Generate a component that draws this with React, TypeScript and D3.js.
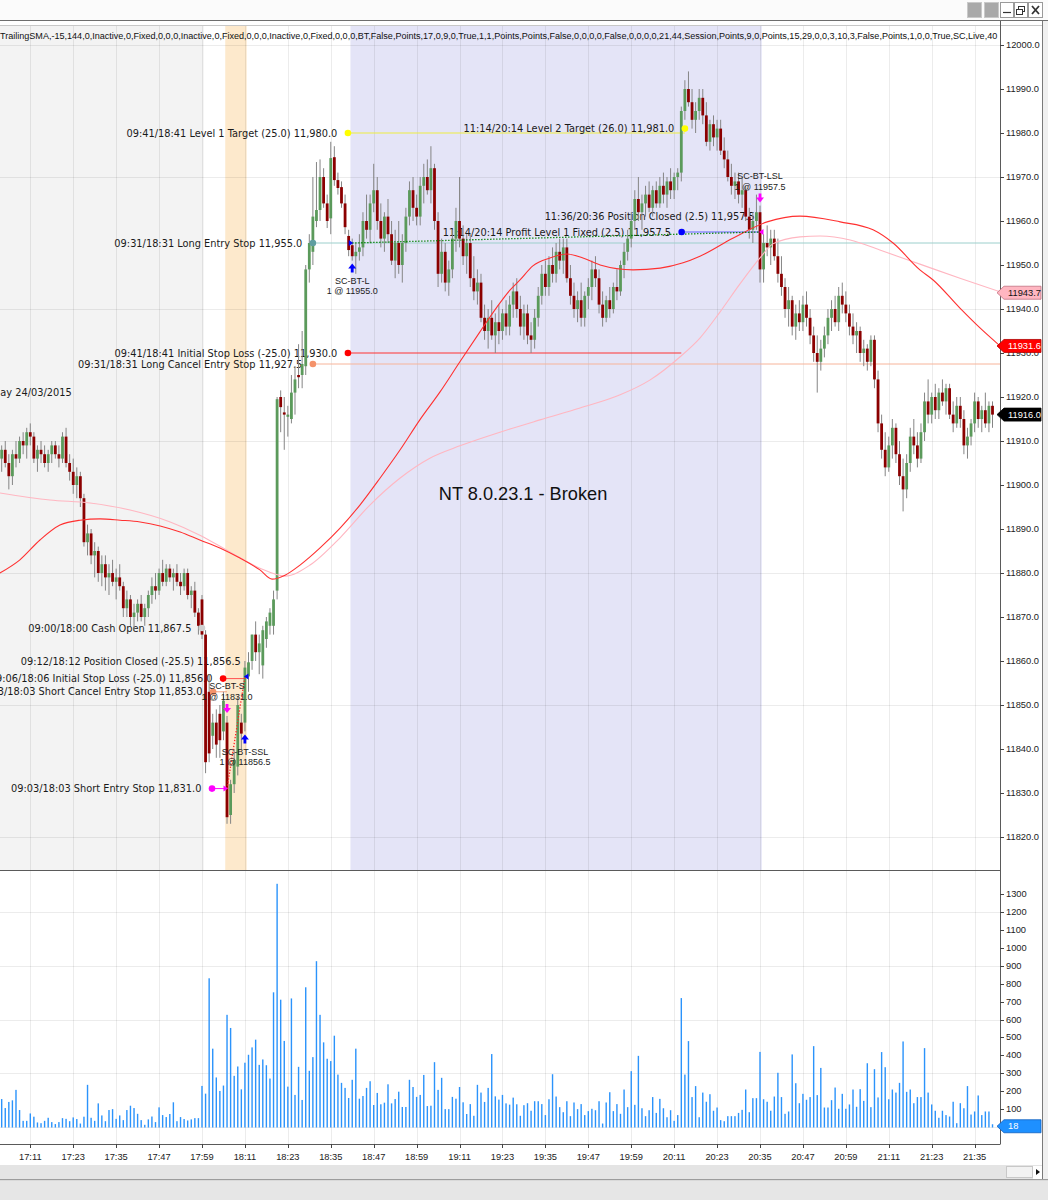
import React from "react";
import * as d3 from "d3";

// ---------------- DATA ----------------
const firstBarTime = "17:03"; // one-minute bars, 17:03 .. 21:40

// [open, high, low, close]
const bars: number[][] = [
  [11906,11909,11903,11908],[11908,11910,11904,11905],[11905,11907,11899,11902],[11902,11908,11900,11907],[11907,11910,11904,11906],
  [11906,11911,11905,11910],[11910,11912,11907,11909],[11909,11913,11906,11912],[11912,11914,11909,11911],[11911,11912,11905,11906],
  [11906,11909,11903,11908],[11908,11910,11905,11907],[11907,11909,11904,11905],[11905,11908,11903,11907],[11907,11910,11905,11909],
  [11909,11910,11906,11907],[11907,11909,11904,11906],[11906,11912,11905,11911],[11911,11913,11904,11905],[11905,11907,11901,11903],
  [11903,11906,11898,11900],[11900,11904,11897,11902],[11902,11903,11895,11897],[11897,11898,11886,11887],[11887,11891,11884,11889],
  [11889,11890,11882,11884],[11884,11887,11879,11885],[11885,11886,11878,11880],[11880,11884,11877,11882],[11882,11884,11876,11879],
  [11879,11882,11875,11880],[11880,11883,11877,11878],[11878,11881,11874,11879],[11879,11882,11876,11877],[11877,11878,11870,11872],
  [11872,11876,11870,11874],[11874,11875,11868,11870],[11870,11873,11867,11871],[11871,11874,11869,11873],[11873,11875,11869,11870],
  [11870,11873,11868,11872],[11872,11876,11870,11875],[11875,11879,11873,11877],[11877,11880,11874,11876],[11876,11881,11875,11880],
  [11880,11883,11877,11878],[11878,11882,11877,11881],[11881,11882,11878,11879],[11879,11881,11876,11880],[11880,11882,11877,11878],
  [11878,11880,11875,11877],[11877,11881,11876,11880],[11880,11881,11874,11875],[11875,11877,11872,11876],[11876,11878,11870,11871],
  [11871,11872,11866,11868],[11874,11875,11865,11866],[11866,11867,11834.5,11837],[11853,11857,11837,11839],[11843,11848,11840,11846],
  [11846,11849,11838,11841],[11848,11850,11838,11842],[11844,11853,11842,11851],[11846,11847.5,11823,11824.5],[11825,11833,11823,11832],
  [11832,11840,11830,11837.5],[11836,11852,11834,11850],[11846,11848,11840,11843.5],[11846,11860,11844,11858.5],[11856.5,11862,11853,11859.7],
  [11860,11866,11858,11866],[11866,11869,11860,11862],[11862,11866,11857,11864],[11859,11868,11856,11867],[11865,11870,11863,11869],
  [11868,11872,11866,11871],[11868,11876,11866,11874],[11876,11920,11874,11919.5],[11920,11921.5,11912,11917.7],[11916.5,11920,11908,11916],
  [11915.5,11918,11911,11916],[11915,11925,11914,11921],[11921,11927,11916,11924],[11925,11932,11922,11924.5],[11925,11935,11922,11927.5],
  [11927,11950,11925,11949],[11949,11957,11946,11955],[11953,11970,11950,11961],[11960,11973.4,11958.6,11962.5],[11962.5,11974,11960,11970],
  [11970,11972,11963,11964],[11964,11966,11958.4,11960],[11960.6,11978,11957,11974.3],[11974.5,11977,11968,11969.3],[11969.3,11971,11966,11967.5],
  [11967.7,11969,11963,11964],[11964,11966,11957,11958.6],[11956.6,11958,11952,11953.4],[11954.5,11956,11951,11952],[11952,11955,11948,11953],
  [11953,11957,11951,11954],[11954,11962,11952,11960],[11960,11966,11956,11958],[11958,11966,11955,11964],[11964,11973,11962,11967],
  [11967,11970,11958,11960],[11960,11964,11954,11956],[11956,11962,11953,11961],[11961,11965,11955,11957],[11957,11960,11950,11951],
  [11951,11958,11947,11955],[11955,11960,11948,11950],[11950,11957,11946,11955],[11955,11963,11953,11961],[11961,11969,11959,11967],
  [11967,11970,11960,11963],[11963,11966,11959,11961],[11961,11970,11959,11968],[11968,11973,11964,11970],[11970,11974,11966,11967],
  [11967,11977,11964,11972],[11972,11973,11958,11960],[11960,11962,11945,11948],[11948,11956,11946,11953],[11953,11955,11944,11946],
  [11946,11951,11943,11949],[11949,11958,11947,11956],[11956,11963,11953,11960],[11960,11970,11954,11956],[11956,11959,11950,11952],
  [11952,11957,11948,11955],[11955,11957,11945,11947],[11947,11952,11942,11944],[11944,11949,11941,11946],[11946,11948,11937,11938],
  [11938,11941,11933,11935],[11935,11940,11931,11938],[11938,11942,11933,11934],[11934,11939,11930,11937],[11937,11941,11932,11935],
  [11935,11940,11933,11939],[11939,11942,11934,11936],[11936,11943,11934,11941],[11941,11946,11938,11944],[11944,11947,11938,11940],
  [11940,11943,11934,11936],[11936,11941,11933,11939],[11939,11941,11932,11934],[11934,11937,11930,11933],[11933,11940,11931,11938],
  [11938,11945,11936,11943],[11943,11950,11941,11948],[11948,11951,11943,11945],[11945,11952,11943,11950],[11950,11954,11946,11948],
  [11948,11955,11946,11953],[11953,11956,11949,11951],[11951,11956,11948,11954],[11954,11956,11946,11947],[11947,11950,11941,11943],
  [11943,11946,11938,11940],[11940,11944,11937,11942],[11942,11946,11936,11938],[11938,11944,11936,11943],[11943,11947,11940,11945],
  [11945,11951,11942,11949],[11949,11952,11945,11947],[11947,11949,11939,11941],[11941,11944,11936,11938],[11938,11943,11937,11942],
  [11942,11945,11938,11940],[11940,11946,11939,11945],[11945,11949,11942,11944],[11944,11951,11943,11950],[11950,11955,11947,11953],
  [11953,11958,11951,11956],[11956,11962,11954,11960],[11960,11967,11958,11965],[11965,11970,11960,11962],[11962,11966,11958,11964],
  [11964,11968,11961,11966],[11966,11969,11962,11963],[11963,11968,11961,11967],[11967,11969,11963,11964],[11964,11970,11963,11968],
  [11968,11971,11964,11966],[11966,11970,11963,11969],[11969,11972,11965,11967],[11967,11971,11965,11970],[11970,11972,11967,11971],
  [11971,11986,11969,11985],[11985,11992,11983,11990],[11990,11994,11986,11987],[11987,11990,11981,11983],[11983,11987,11980,11985],
  [11985,11990,11983,11988],[11988,11990,11982,11984],[11984,11987,11977,11978],[11978,11983,11976,11982],[11982,11984,11977,11979],
  [11979,11983,11976,11981],[11981,11983,11975,11976],[11976,11979,11972,11974],[11974,11976,11969,11970],[11970,11973,11966,11968],
  [11968,11971,11965,11969],[11969,11971,11964,11966],[11966,11970,11963,11967],[11967,11968,11960,11961],[11961,11963,11956,11958],
  [11958,11962,11955,11960],[11960,11966,11958,11962],[11962,11963.5,11946,11949],[11949,11957,11946,11955],[11955,11959,11952,11954],
  [11954,11958,11950,11956],[11956,11958,11951,11952],[11952,11956,11946,11948],[11948,11952,11943,11945],[11945,11947,11938,11940],
  [11940,11945,11936,11942],[11942,11943,11934,11936],[11936,11941,11933,11939],[11939,11942,11935,11937],[11937,11943,11935,11941],
  [11941,11944,11936,11938],[11938,11940,11932,11934],[11934,11936,11928,11930],[11930,11934,11921,11928],[11928,11933,11926,11931],
  [11931,11936,11929,11934],[11934,11940,11932,11938],[11938,11942,11935,11940],[11940,11943,11936,11937],[11937,11945,11935,11943],
  [11943,11946,11939,11941],[11941,11944,11937,11939],[11939,11941,11934,11936],[11936,11939,11932,11934],[11934,11937,11930,11935],
  [11935,11936,11928,11930],[11930,11933,11927,11931],[11931,11932,11926,11928],[11928,11934,11927,11933],[11933,11934,11922,11924],
  [11924,11926,11912,11914],[11914,11916,11906,11908],[11908,11912,11902,11904],[11904,11911,11903,11909],[11909,11915,11906,11913],
  [11913,11914,11905,11907],[11907,11910,11900,11902],[11902,11906,11894,11899],[11899,11907,11897,11905],[11905,11913,11903,11911],
  [11911,11915,11907,11909],[11909,11912,11904,11906],[11906,11914,11905,11912],[11912,11921,11910,11919],[11919,11924,11914,11916],
  [11916,11921,11914,11920],[11920,11923,11915,11917],[11917,11922,11915,11921],[11921,11924,11918,11919],[11919,11923,11916,11922],
  [11922,11923,11915,11916],[11916,11919,11912,11914],[11914,11920,11913,11918],[11918,11920,11913,11915],[11915,11917,11907,11909],
  [11909,11913,11906,11911],[11911,11915,11909,11914],[11914,11921,11912,11919],[11919,11920,11913,11915],[11915,11918,11912,11917],
  [11917,11921,11913,11914],[11914,11919,11912,11918],[11918,11919,11913,11916],
];

const volumes: number[] = [
  158,108,142,151,209,97,37,37,78,60, 28,24,37,54,30,19,30,52,48,35,
  56,47,22,60,237,54,37,134,67,35, 97,102,48,67,41,97,121,108,76,41,
  15,45,61,30,112,69,58,75,140,35, 58,47,39,45,52,52,231,188,829,438,
  278,203,233,626,553,287,339,212,360,404, 445,488,348,378,346,272,751,1354,710,481,
  227,717,181,337,153,779,315,391,924,626, 473,382,369,510,294,248,220,164,265,438,
  160,175,220,257,125,192,129,138,240,134, 158,199,114,114,265,225,170,181,292,119,
  121,363,209,276,102,102,170,160,225,140, 75,130,65,237,194,142,220,408,173,155,
  181,134,127,166,129,65,124,135,93,146, 146,130,69,157,296,172,113,85,146,63,
  139,102,130,69,91,104,96,146,22,139, 196,91,130,76,211,113,313,126,398,107,
  63,96,169,81,159,107,57,96,37,69, 719,294,480,169,230,57,194,143,185,93,
  111,41,35,63,63,63,81,98,211,85, 163,163,420,157,143,93,172,304,169,76,
  89,406,246,135,187,154,169,452,180,331, 111,111,152,222,104,187,104,128,211,115,
  213,148,357,113,324,167,419,335,157,211, 194,248,478,198,211,135,169,169,441,194,
  128,93,54,93,69,61,143,24,135,107, 230,72,89,178,69,89,89,18,
];

// moving averages: [bar index, value]
const fastSMA: number[][] = [
  [-0.5,11880.0],[5.1,11883.0],[10.7,11887.5],[16.3,11890.9],[21.9,11892.0],[27.5,11892.3],[33.1,11892.0],[38.7,11891.6],
  [44.3,11890.7],[49.9,11889.3],[55.4,11887.5],[61.0,11885.7],[66.6,11883.4],[72.2,11880.7],[75.6,11878.6],[79.2,11879.5],
  [83.4,11881.8],[89.0,11885.7],[94.6,11890.2],[100.2,11895.5],[105.8,11901.6],[111.4,11908.0],[116.9,11914.8],[122.5,11921.1],
  [128.1,11928.0],[133.7,11934.8],[138.5,11940.5],[142.1,11944.3],[144.9,11946.6],[148.5,11949.8],[153.3,11951.6],[158.0,11952.5],
  [162.5,11951.6],[167.3,11950.0],[176.5,11948.9],[184.1,11949.3],[190.5,11950.5],[195.2,11952.0],[204.4,11956.1],[214.0,11959.8],
  [223.2,11961.1],[234.4,11959.8],[243.6,11958.0],[249.2,11955.0],[256.7,11948.9],[260.4,11946.6],[267.9,11940.2],[273.5,11935.7],
  [279.1,11931.6],
];
const slowSMA: number[][] = [
  [-0.5,11898.2],[13.5,11896.6],[24.7,11895.9],[35.9,11894.3],[47.1,11891.6],[55.4,11888.6],[63.8,11884.8],[72.2,11881.1],
  [79.2,11879.3],[86.2,11881.8],[94.6,11888.0],[103.0,11895.5],[111.4,11901.6],[119.7,11906.1],[128.1,11908.9],[139.3,11912.0],
  [150.5,11914.8],[161.7,11917.5],[172.9,11920.5],[181.3,11923.9],[189.6,11929.1],[195.2,11933.4],[200.8,11939.3],[206.4,11945.7],
  [212.0,11951.6],[215.6,11954.8],[223.2,11956.4],[228.8,11956.6],[237.2,11955.7],[245.5,11953.4],[256.7,11950.2],[267.9,11947.0],
  [279.1,11943.9],
];

const priceTicks = [11820,11830,11840,11850,11860,11870,11880,11890,11900,11910,11920,11930,11940,11950,11960,11970,11980,11990,12000];
const priceGrid = [11820,11850,11880,11910,11940,11970,12000];
const volumeTicks = [100,200,300,400,500,600,700,800,900,1000,1100,1200,1300];
const volumeGrid = [0,300,600,900,1200];
const timeTicks = ["17:11","17:23","17:35","17:47","17:59","18:11","18:23","18:35","18:47","18:59","19:11","19:23","19:35","19:47","19:59","20:11","20:23","20:35","20:47","20:59","21:11","21:23","21:35"];

const lastValues = { slow: 11943.7, fast: 11931.6, price: 11916.0, volume: 18 };

const headerText = "TrailingSMA,-15,144,0,Inactive,0,Fixed,0,0,0,Inactive,0,Fixed,0,0,0,Inactive,0,Fixed,0,0,0,BT,False,Points,17,0,9,0,True,1,1,Points,Points,False,0,0,0,0,False,0,0,0,0,21,44,Session,Points,9,0,Points,15,29,0,0,3,10,3,False,Points,1,0,0,True,SC,Live,40";

// shaded time spans (bar index)
const regions = [
  { from: -1, to: 56.5, fill: "#f3f3f3" },
  { from: 62.5, to: 68.5, fill: "#fde9cc" },
  { from: 97.5, to: 212.5, fill: "#e4e4f7" },
];

// order / strategy annotations: anchor bar, price, optional line end
const orders = [
  { label: "09:41/18:41 Level 1 Target (25.0) 11,980.0", bar: 96.8, price: 11980, end: 191, line: "#eded40", dot: "#ffff00", dy: 0 },
  { label: "11:14/20:14 Level 2 Target (26.0) 11,981.0", bar: 191, price: 11981, end: null, line: "", dot: "#ffff00", dy: 0 },
  { label: "09:31/18:31 Long Entry Stop 11,955.0", bar: 87, price: 11955, end: "edge", line: "#9ccfcc", dot: "#5f9ea0", dy: 0 },
  { label: "09:41/18:41 Initial Stop Loss (-25.0) 11,930.0", bar: 96.8, price: 11930, end: 190, line: "#ff3333", dot: "#ff0000", dy: 0 },
  { label: "09:31/18:31 Long Cancel Entry Stop 11,927.5", bar: 87, price: 11927.5, end: "edge", line: "#f7b49a", dot: "#f4926a", dy: 0 },
  { label: "09:00/18:00 Cash Open 11,867.5", bar: 56, price: 11867.5, end: null, line: "", dot: "#d0d0d0", dy: 0 },
  { label: "09:12/18:12 Position Closed (-25.5) 11,856.5", bar: 69.8, price: 11856.5, end: null, line: "", dot: "", dy: -15.4 },
  { label: "09:06/18:06 Initial Stop Loss (-25.0) 11,856.0", bar: 61.9, price: 11856, end: 68.3, line: "#ff5050", dot: "#ff0000", dy: 0 },
  { label: "09:03/18:03 Short Cancel Entry Stop 11,853.0", bar: 59.1, price: 11853, end: 63, line: "#f4a080", dot: "#f4926a", dy: 0 },
  { label: "09:03/18:03 Short Entry Stop 11,831.0", bar: 58.8, price: 11831, end: 62.6, line: "#ff00ff", dot: "#ff00ff", dy: 0 },
  { label: "11:36/20:36 Position Closed (2.5) 11,957.5", bar: 213.5, price: 11957.5, end: null, line: "", dot: "", dy: -15.4 },
  { label: "11:14/20:14 Profit Level 1 Fixed (2.5) 11,957.5", bar: 190.1, price: 11957.5, end: 212.6, line: "#6060ff", dot: "#0000ff", dy: 0 },
];

// executions
const executions = [
  { name: "SC-BT-S", qty: 1, price: 11831.0, bar: 63, side: "sell", entry: true },
  { name: "SC-BT-SSL", qty: 1, price: 11856.5, bar: 68, side: "buy", entry: false },
  { name: "SC-BT-L", qty: 1, price: 11955.0, bar: 98, side: "buy", entry: true },
  { name: "SC-BT-LSL", qty: 1, price: 11957.5, bar: 212, side: "sell", entry: false },
];
const tradeLinks = [
  { from: 0, to: 1, color: "#ff2020" },
  { from: 2, to: 3, color: "#008000" },
];

const sessionLabel = "Tuesday 24/03/2015";
const watermark = "NT 8.0.23.1 - Broken";

// ---------------- CHART ----------------
const AX = "'Liberation Sans', Arial, sans-serif";
const DV = "'DejaVu Sans', Verdana, sans-serif";

function toMin(t: string) {
  const [h, m] = t.split(":").map(Number);
  return h * 60 + m;
}

export default function App() {
  const W = 1048, H = 1200;
  const plotR = 1000;
  const pTop = 26, pBot = 870, vTop = 870, vBot = 1144;
  const n = bars.length;
  const x = d3.scaleLinear().domain([0, n - 1]).range([1.68, 1.68 + 3.577 * (n - 1)]);
  const y = d3.scaleLinear().domain([11812.5, 12004.32]).range([pBot, pTop]);
  const yv = d3.scaleLinear().domain([-91.7, 1430.6]).range([vBot, vTop]);
  const t0 = toMin(firstBarTime);

  const lineGen = d3.line<number[]>().x(d => x(d[0])).y(d => y(d[1])).curve(d3.curveMonotoneX);

  const arrow = (cx: number, top: number, up: boolean, color: string) => {
    const h = 9, hw = 4, sw = 1.4, hh = 5;
    const p = up
      ? `M${cx},${top} L${cx + hw},${top + hh} L${cx + sw},${top + hh} L${cx + sw},${top + h} L${cx - sw},${top + h} L${cx - sw},${top + hh} L${cx - hw},${top + hh} Z`
      : `M${cx},${top + h} L${cx + hw},${top + h - hh} L${cx + sw},${top + h - hh} L${cx + sw},${top} L${cx - sw},${top} L${cx - sw},${top + h - hh} L${cx - hw},${top + h - hh} Z`;
    return <path d={p} fill={color} />;
  };

  const tag = (yy: number, fill: string, stroke: string, txtColor: string, label: string, key: string) => (
    <g key={key}>
      <path d={`M997,${yy} L1004,${yy - 6.5} L1041,${yy - 6.5} L1041,${yy + 6.5} L1004,${yy + 6.5} Z`} fill={fill} stroke={stroke} strokeWidth={0.8} />
      <text x={1008} y={yy} dominantBaseline="central" fontFamily={AX} fontSize={9.3} fill={txtColor}>{label}</text>
    </g>
  );

  return (
    <svg width={W} height={H} viewBox={`0 0 ${W} ${H}`} style={{ display: "block", position: "absolute", left: 0, top: 0 }}>
      <defs>
        <clipPath id="pclip"><rect x={0} y={pTop} width={plotR} height={pBot - pTop} /></clipPath>
        <clipPath id="vclip"><rect x={0} y={vTop} width={plotR} height={vBot - vTop} /></clipPath>
        <clipPath id="hclip"><rect x={0} y={20} width={998} height={30} /></clipPath>
      </defs>
      {/* window chrome */}
      <rect x={0} y={0} width={W} height={H} fill="#ffffff" />
      <rect x={0} y={0} width={W} height={20} fill="#fbfbfb" />
      <line x1={0} x2={W} y1={20.5} y2={20.5} stroke="#6e6e6e" />
      <line x1={0} x2={1042} y1={25.5} y2={25.5} stroke="#c8c8c8" />
      <g>
        <rect x={967.5} y={2.5} width={14} height={15} fill="#a9a9a9" stroke="#c9c9c9" />
        <rect x={984.5} y={2.5} width={14} height={15} fill="#a9a9a9" stroke="#c9c9c9" />
        <rect x={1000.5} y={2.5} width={13} height={15} fill="#fff" stroke="#9a9a9a" />
        <line x1={1003} x2={1011} y1={12.5} y2={12.5} stroke="#333" strokeWidth={1.2} />
        <rect x={1014.5} y={2.5} width={13} height={15} fill="#fff" stroke="#9a9a9a" />
        <rect x={1018.5} y={6.5} width={6} height={5} fill="none" stroke="#333" />
        <rect x={1016.5} y={9.5} width={6} height={5} fill="#fff" stroke="#333" />
        <rect x={1028.5} y={2.5} width={14} height={15} fill="#fff" stroke="#9a9a9a" />
        <path d="M1032,6 L1039,14 M1039,6 L1032,14" stroke="#333" strokeWidth={1.8} />
      </g>

      {/* price panel background regions */}
      <g clipPath="url(#pclip)">
        {regions.map((r, i) => (
          <rect key={i} x={x(r.from)} y={pTop} width={x(r.to) - x(r.from)} height={pBot - pTop} fill={r.fill} />
        ))}
      </g>
      {/* grid */}
      <g stroke="#000" strokeOpacity={0.075} strokeWidth={1}>
        {timeTicks.map(t => {
          const xx = Math.round(x(toMin(t) - t0)) + 0.5;
          return <line key={t} x1={xx} x2={xx} y1={pTop} y2={vBot} />;
        })}
        {priceGrid.map(p => <line key={p} x1={0} x2={plotR} y1={Math.round(y(p)) + 0.5} y2={Math.round(y(p)) + 0.5} />)}
        {volumeGrid.map(v => <line key={v} x1={0} x2={plotR} y1={Math.round(yv(v)) + 0.5} y2={Math.round(yv(v)) + 0.5} />)}
      </g>

      {/* header text */}
      <text x={0} y={38.5} fontFamily={AX} fontSize={9.05} fill="#111" clipPath="url(#hclip)">{headerText}</text>

      <g clipPath="url(#pclip)">
        {/* order lines */}
        {orders.map((o, i) => {
          if (o.end == null) return null;
          const x2 = o.end === "edge" ? plotR : x(o.end as number);
          const yy = y(o.price);
          return <line key={i} x1={x(o.bar)} x2={x2} y1={yy} y2={yy} stroke={o.line} strokeWidth={1} />;
        })}
        {/* labels */}
        {orders.map((o, i) => (
          <text key={i} x={x(o.bar) - 10.6} y={y(o.price) + o.dy} textAnchor="end" dominantBaseline="central"
            fontFamily={DV} fontSize={9.8} fill="#1a1a1a">{o.label}</text>
        ))}
        <text x={71.7} y={392.5} textAnchor="end" dominantBaseline="central" fontFamily={DV} fontSize={9.8} fill="#1a1a1a">{sessionLabel}</text>
        <text x={523} y={494} textAnchor="middle" dominantBaseline="central" fontFamily={AX} fontSize={18.2} fill="#111">{watermark}</text>

        {/* candles */}
        {bars.map((b, i) => {
          const [o, h, l, c] = b;
          const xx = x(i);
          const up = c >= o;
          const top = y(Math.max(o, c)), bot = y(Math.min(o, c));
          return (
            <g key={i}>
              <line x1={xx} x2={xx} y1={y(h)} y2={y(l)} stroke="#858585" strokeWidth={1} />
              <rect x={xx - 1.4} y={top} width={2.8} height={Math.max(bot - top, 1)} fill={up ? "#5b9a5b" : "#8b0000"} />
            </g>
          );
        })}

        {/* moving averages */}
        <path d={lineGen(slowSMA) || ""} fill="none" stroke="#ffb6c1" strokeWidth={1.1} />
        <path d={lineGen(fastSMA) || ""} fill="none" stroke="#ff3030" strokeWidth={1.1} />

        {/* trade links */}
        {tradeLinks.map((t, i) => {
          const a = executions[t.from], b = executions[t.to];
          return <line key={i} x1={x(a.bar)} y1={y(a.price)} x2={x(b.bar)} y2={y(b.price)} stroke={t.color} strokeWidth={1.3} strokeDasharray="1.3,1.7" />;
        })}

        {/* order dots */}
        {orders.map((o, i) => o.dot ? (
          <circle key={i} cx={x(o.bar)} cy={y(o.price)} r={3.3} fill={o.dot} />
        ) : null)}

        {/* executions */}
        {executions.map((e, i) => {
          const b = bars[e.bar];
          const xx = x(e.bar);
          const buy = e.side === "buy";
          const col = buy ? "#0000ff" : "#ff00ff";
          const py = y(e.price);
          // entries point right (from the left), exits point left (from the right)
          const triPath = e.entry
            ? `M${xx + 1},${py} L${xx - 3.5},${py - 3} L${xx - 3.5},${py + 3} Z`
            : `M${xx - 1},${py} L${xx + 3.5},${py - 3} L${xx + 3.5},${py + 3} Z`;
          if (buy) {
            const top = y(b[2]) + 3;
            return (
              <g key={i}>
                <path d={triPath} fill={col} />
                {arrow(xx, top, true, col)}
                <text x={xx} y={top + 9 + 8.5} textAnchor="middle" dominantBaseline="central" fontFamily={AX} fontSize={9} fill="#222">{e.name}</text>
                <text x={xx} y={top + 9 + 18.5} textAnchor="middle" dominantBaseline="central" fontFamily={AX} fontSize={9} fill="#222">{`${e.qty} @ ${e.price.toFixed(1)}`}</text>
              </g>
            );
          }
          const bottom = y(b[1]) - 3;
          return (
            <g key={i}>
              <path d={triPath} fill={col} />
              {arrow(xx, bottom - 9, false, col)}
              <text x={xx} y={bottom - 9 - 7} textAnchor="middle" dominantBaseline="central" fontFamily={AX} fontSize={9} fill="#222">{`${e.qty} @ ${e.price.toFixed(1)}`}</text>
              <text x={xx} y={bottom - 9 - 18} textAnchor="middle" dominantBaseline="central" fontFamily={AX} fontSize={9} fill="#222">{e.name}</text>
            </g>
          );
        })}
      </g>

      {/* volume */}
      <g clipPath="url(#vclip)">
        {volumes.map((v, i) => (
          <rect key={i} x={x(i) - 0.7} y={yv(v)} width={1.4} height={yv(0) - yv(v)} fill="#2b93fb" />
        ))}
      </g>

      {/* frame lines */}
      <line x1={0} x2={plotR} y1={870.5} y2={870.5} stroke="#5a5a5a" />
      <line x1={0} x2={plotR} y1={1144.5} y2={1144.5} stroke="#5a5a5a" />
      <line x1={plotR + 0.5} x2={plotR + 0.5} y1={21} y2={1144.5} stroke="#5a5a5a" />
      <line x1={1042.5} x2={1042.5} y1={21} y2={1180} stroke="#7a7a7a" />
      <rect x={1043} y={21} width={5} height={1159} fill="#f0f0f0" />

      {/* price axis */}
      {priceTicks.map(p => (
        <g key={p}>
          <line x1={1000} x2={1004} y1={Math.round(y(p)) + 0.5} y2={Math.round(y(p)) + 0.5} stroke="#444" />
          <text x={1006} y={y(p)} dominantBaseline="central" fontFamily={AX} fontSize={9.3} fill="#222">{p.toFixed(1)}</text>
        </g>
      ))}
      {volumeTicks.map(v => (
        <g key={v}>
          <line x1={1000} x2={1004} y1={Math.round(yv(v)) + 0.5} y2={Math.round(yv(v)) + 0.5} stroke="#444" />
          <text x={1006} y={yv(v)} dominantBaseline="central" fontFamily={AX} fontSize={9.3} fill="#222">{v}</text>
        </g>
      ))}
      {tag(y(lastValues.slow), "#ffb6c1", "#c07080", "#111", lastValues.slow.toFixed(1), "s")}
      {tag(y(lastValues.fast), "#ff0000", "#b00000", "#fff", lastValues.fast.toFixed(1), "f")}
      {tag(y(lastValues.price), "#000000", "#000", "#fff", lastValues.price.toFixed(1), "p")}
      {tag(yv(lastValues.volume) + 2, "#1e90ff", "#1060c0", "#fff", String(lastValues.volume), "v")}

      {/* time axis */}
      {timeTicks.map(t => {
        const xx = x(toMin(t) - t0);
        return (
          <g key={t}>
            <line x1={Math.round(xx) + 0.5} x2={Math.round(xx) + 0.5} y1={1144} y2={1148} stroke="#444" />
            <text x={xx} y={1157} textAnchor="middle" dominantBaseline="central" fontFamily={AX} fontSize={9.3} fill="#222">{t}</text>
          </g>
        );
      })}

      {/* bottom chrome */}
      <rect x={0} y={1165} width={1042} height={14} fill="#e4e4e4" />
      <rect x={1006.5} y={1166.5} width={26} height={11} fill="#f2f2f2" stroke="#c8c8c8" />
      <rect x={1033} y={1166} width={9} height={13} fill="#fff" />
      <path d="M1036,1169 L1040,1172 L1036,1175 Z" fill="#111" />
      <rect x={0} y={1179} width={W} height={1.5} fill="#9c9c9c" />
      <rect x={0} y={1180.5} width={W} height={H - 1180.5} fill="#e6e6e6" />
    </svg>
  );
}
